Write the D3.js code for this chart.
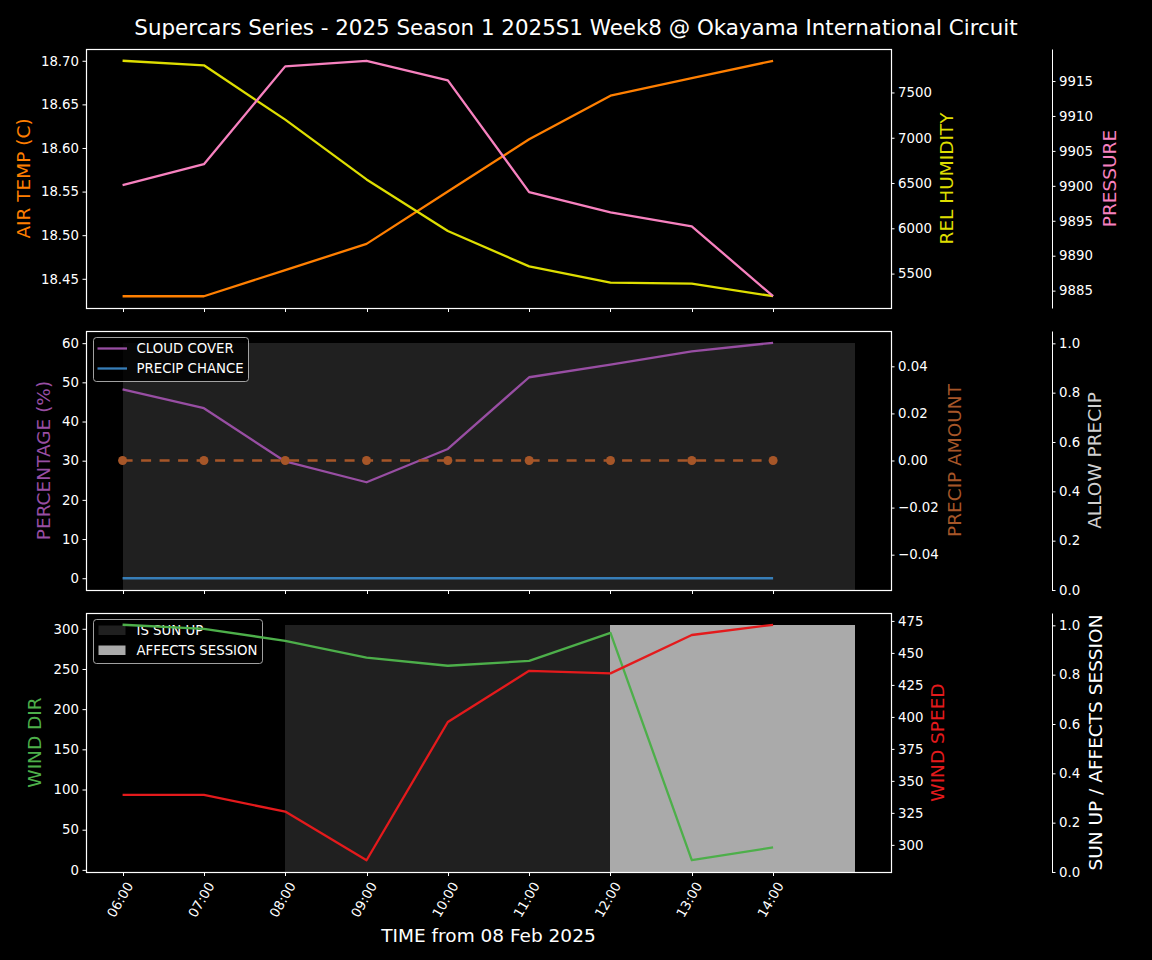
<!DOCTYPE html>
<html>
<head>
<meta charset="utf-8">
<script src="https://cdn.jsdelivr.net/npm/d3@7"></script>
<style>
  html, body { margin: 0; padding: 0; background: #000; }
  svg { display: block; }
  text { font-family: "DejaVu Sans", sans-serif; }
</style>
</head>
<body>
<div id="chart"></div>
<script>
// ---------------- DATA ----------------
const title = "Supercars Series - 2025 Season 1 2025S1 Week8 @ Okayama International Circuit";
const xTitle = "TIME from 08 Feb 2025";
const times = ["06:00","07:00","08:00","09:00","10:00","11:00","12:00","13:00","14:00"];
const airTemp = [18.43, 18.43, 18.46, 18.49, 18.55, 18.61, 18.66, 18.68, 18.70];
const relHumidity = [7850, 7800, 7200, 6540, 5970, 5580, 5400, 5390, 5250];
const pressure = [9900.1, 9903.1, 9917.1, 9917.9, 9915.1, 9899.1, 9896.2, 9894.2, 9884.2];
const cloudCover = [48.2, 43.4, 29.8, 24.5, 33.0, 51.3, 54.5, 57.9, 60.1];
const precipChance = [0, 0, 0, 0, 0, 0, 0, 0, 0];
const precipAmount = [0, 0, 0, 0, 0, 0, 0, 0, 0];
const allowPrecip = [1, 1, 1, 1, 1, 1, 1, 1, 1];
const isSunUp = [0, 0, 1, 1, 1, 1, 1, 1, 1];
const affectsSession = [0, 0, 0, 0, 0, 0, 1, 1, 1];
const windDir = [305, 300, 285, 264, 254, 260, 295, 12, 28];
const windSpeed = [339, 339, 326, 288, 396, 436, 434, 464, 472];

// tick labels
const airTempTicks = [18.45, 18.50, 18.55, 18.60, 18.65, 18.70];
const humidityTicks = [5500, 6000, 6500, 7000, 7500];
const pressureTicks = [9885, 9890, 9895, 9900, 9905, 9910, 9915];
const percentTicks = [0, 10, 20, 30, 40, 50, 60];
const precipAmountTicks = [-0.04, -0.02, 0.00, 0.02, 0.04];
const unitTicks = [0.0, 0.2, 0.4, 0.6, 0.8, 1.0];
const windDirTicks = [0, 50, 100, 150, 200, 250, 300];
const windSpeedTicks = [300, 325, 350, 375, 400, 425, 450, 475];

// ---------------- LAYOUT ----------------
const W = 1152, H = 960;
const L = 86, R = 891, S3 = 1052;
const panels = [{top: 49, bottom: 308}, {top: 331, bottom: 590}, {top: 613, bottom: 872}];
const FONT = "DejaVu Sans, sans-serif";
const TICK_FS = 13.3, LABEL_FS = 18.5, LW = 2.3;

const C = {
  temp: "#ff7f00", hum: "#dede00", pres: "#f781bf", cloud: "#984ea3",
  pchance: "#377eb8", pamount: "#a65628", wdir: "#4daf4a", wspeed: "#e41a1c",
  sun: "#202020", aff: "#aaaaaa", allow: "#202020"
};

const svg = d3.select("#chart").append("svg").attr("width", W).attr("height", H)
  .style("background", "#000");
svg.append("rect").attr("width", W).attr("height", H).attr("fill", "#000");

const parseT = s => { const [h, m] = s.split(":").map(Number); return new Date(2025, 1, 8, h, m); };
const tDates = times.map(parseT);
const hour = 3600 * 1000;
const tStart = tDates[0], tEnd = new Date(+tDates[tDates.length - 1] + hour);
const span = tEnd - tStart;
const x = d3.scaleTime()
  .domain([new Date(+tStart - 0.05 * span), new Date(+tEnd + 0.05 * span)])
  .range([L, R]);

function pad(vals) {
  let lo = d3.min(vals), hi = d3.max(vals);
  if (lo === hi) { lo -= 0.05; hi += 0.05; }
  const r = hi - lo;
  return [lo - 0.05 * r, hi + 0.05 * r];
}
function yScale(domain, p) { return d3.scaleLinear().domain(domain).range([p.bottom, p.top]); }

function styleAxis(g, color) {
  g.selectAll("text").attr("fill", color || "#fff").style("font-size", TICK_FS + "px").style("font-family", FONT);
  g.selectAll(".tick line").attr("stroke", "#fff").attr("stroke-width", 1);
  g.select(".domain").attr("stroke", "#fff").attr("stroke-width", 1);
}

function leftAxis(y, ticks, fmt) {
  const g = svg.append("g").attr("transform", `translate(${L},0)`)
    .call(d3.axisLeft(y).tickValues(ticks).tickFormat(fmt).tickSize(3.5).tickPadding(3.5));
  g.select(".domain").remove();
  styleAxis(g);
}
function rightAxis(y, ticks, fmt, xpos, withDomain) {
  const g = svg.append("g").attr("transform", `translate(${xpos},0)`)
    .call(d3.axisRight(y).tickValues(ticks).tickFormat(fmt).tickSize(3.5).tickPadding(3.5).tickSizeOuter(0));
  if (!withDomain) g.select(".domain").remove();
  styleAxis(g);
}
function bottomTicks(p, labels) {
  const g = svg.append("g").attr("transform", `translate(0,${p.bottom})`);
  tDates.forEach((d, i) => {
    const tx = Math.round(x(d)) + 0.5;
    g.append("line").attr("x1", tx).attr("x2", tx).attr("y1", 0).attr("y2", 4)
      .attr("stroke", "#fff").attr("stroke-width", 1);
    if (labels) {
      g.append("text").attr("transform", `translate(${x(d) + 7},${11}) rotate(-60)`)
        .attr("text-anchor", "end").attr("dy", "0.35em")
        .attr("fill", "#fff").style("font-size", TICK_FS + "px").text(times[i]);
    }
  });
}
function ylabel(text, cx, p, color) {
  svg.append("text").attr("transform", `translate(${cx},${(p.top + p.bottom) / 2}) rotate(-90)`)
    .attr("text-anchor", "middle").attr("dy", "0.35em").attr("fill", color)
    .style("font-size", LABEL_FS + "px").text(text);
}
function line(y, vals, color, dash) {
  const gen = d3.line().x((d, i) => x(tDates[i])).y(d => y(d));
  const pth = svg.append("path").datum(vals).attr("d", gen).attr("fill", "none")
    .attr("stroke", color).attr("stroke-width", LW).attr("stroke-linejoin", "round");
  if (dash) pth.attr("stroke-dasharray", dash);
  return pth;
}
function fillSteps(y, vals, color) {
  // each value spans one hour from its timestamp
  vals.forEach((v, i) => {
    if (!v) return;
    const x0 = x(tDates[i]), x1 = x(new Date(+tDates[i] + hour));
    svg.append("rect").attr("x", x0).attr("width", x1 - x0 + 0.3)
      .attr("y", y(v)).attr("height", y(0) - y(v)).attr("fill", color)
      .attr("shape-rendering", "crispEdges");
  });
}
function spines(p) {
  svg.append("rect").attr("x", L + 0.5).attr("y", p.top + 0.5).attr("width", R - L).attr("height", p.bottom - p.top)
    .attr("fill", "none").attr("stroke", "#fff").attr("stroke-width", 1.2);
}
function legend(px, py, w, h, items) {
  const g = svg.append("g");
  g.append("rect").attr("x", px).attr("y", py).attr("width", w).attr("height", h)
    .attr("rx", 3).attr("fill", "rgba(0,0,0,0.8)").attr("stroke", "#c8c8c8").attr("stroke-opacity", 0.8).attr("stroke-width", 1);
  items.forEach((it, i) => {
    const cy = py + 11 + i * 20;
    if (it.type === "line") {
      g.append("line").attr("x1", px + 4).attr("x2", px + 33.5).attr("y1", cy).attr("y2", cy)
        .attr("stroke", it.color).attr("stroke-width", LW);
    } else {
      g.append("rect").attr("x", px + 5).attr("y", cy - 5).attr("width", 27).attr("height", 9.5).attr("fill", it.color);
    }
    g.append("text").attr("x", px + 43).attr("y", cy).attr("dy", "0.35em").attr("fill", "#fff")
      .style("font-size", TICK_FS + "px").text(it.label);
  });
}

// ---------------- TITLE ----------------
svg.append("text").attr("x", 576).attr("y", 35).attr("text-anchor", "middle").attr("fill", "#fff")
  .style("font-size", "21.4px").text(title);

// ---------------- PANEL 1 ----------------
{
  const p = panels[0];
  const yT = yScale(pad(airTemp), p);
  const yH = yScale(pad(relHumidity), p);
  const yP = yScale(pad(pressure), p);
  line(yT, airTemp, C.temp);
  line(yH, relHumidity, C.hum);
  line(yP, pressure, C.pres);
  spines(p);
  leftAxis(yT, airTempTicks, d3.format(".2f"));
  rightAxis(yH, humidityTicks, d3.format("d"), R, false);
  rightAxis(yP, pressureTicks, d3.format("d"), S3, true);
  bottomTicks(p, false);
  ylabel("AIR TEMP (C)", 23.5, p, C.temp);
  ylabel("REL HUMIDITY", 947, p, C.hum);
  ylabel("PRESSURE", 1110, p, C.pres);
}

// ---------------- PANEL 2 ----------------
{
  const p = panels[1];
  const yPct = yScale(pad(cloudCover.concat(precipChance)), p);
  const yAmt = yScale(pad(precipAmount), p);
  const yAllow = yScale([0, 1.05], p);
  fillSteps(yAllow, allowPrecip, C.allow);
  line(yPct, cloudCover, C.cloud);
  line(yPct, precipChance, C.pchance);
  line(yAmt, precipAmount, C.pamount, "10,8.5");
  svg.append("g").selectAll("circle").data(precipAmount).join("circle")
    .attr("cx", (d, i) => x(tDates[i])).attr("cy", d => yAmt(d)).attr("r", 4.5).attr("fill", C.pamount);
  spines(p);
  leftAxis(yPct, percentTicks, d3.format("d"));
  rightAxis(yAmt, precipAmountTicks, d3.format(".2f"), R, false);
  rightAxis(yAllow, unitTicks, d3.format(".1f"), S3, true);
  bottomTicks(p, false);
  ylabel("PERCENTAGE (%)", 43.5, p, C.cloud);
  ylabel("PRECIP AMOUNT", 955, p, C.pamount);
  ylabel("ALLOW PRECIP", 1095, p, "#d0d0d0");
  legend(93.5, 337.5, 155, 44, [
    {type: "line", color: C.cloud, label: "CLOUD COVER"},
    {type: "line", color: C.pchance, label: "PRECIP CHANCE"}
  ]);
}

// ---------------- PANEL 3 ----------------
{
  const p = panels[2];
  const yD = yScale(pad(windDir), p);
  const yS = yScale(pad(windSpeed), p);
  const yU = yScale([0, 1.05], p);
  fillSteps(yU, isSunUp, C.sun);
  fillSteps(yU, affectsSession, C.aff);
  legend(93.5, 619.5, 169, 44, [
    {type: "patch", color: C.sun, label: "IS SUN UP"},
    {type: "patch", color: C.aff, label: "AFFECTS SESSION"}
  ]);
  line(yD, windDir, C.wdir);
  line(yS, windSpeed, C.wspeed);
  spines(p);
  leftAxis(yD, windDirTicks, d3.format("d"));
  rightAxis(yS, windSpeedTicks, d3.format("d"), R, false);
  rightAxis(yU, unitTicks, d3.format(".1f"), S3, true);
  bottomTicks(p, true);
  ylabel("WIND DIR", 35, p, C.wdir);
  ylabel("WIND SPEED", 938, p, C.wspeed);
  ylabel("SUN UP / AFFECTS SESSION", 1096, p, "#fff");
}

svg.append("text").attr("x", (L + R) / 2).attr("y", 942).attr("text-anchor", "middle").attr("fill", "#fff")
  .style("font-size", LABEL_FS + "px").text(xTitle);
</script>
</body>
</html>
